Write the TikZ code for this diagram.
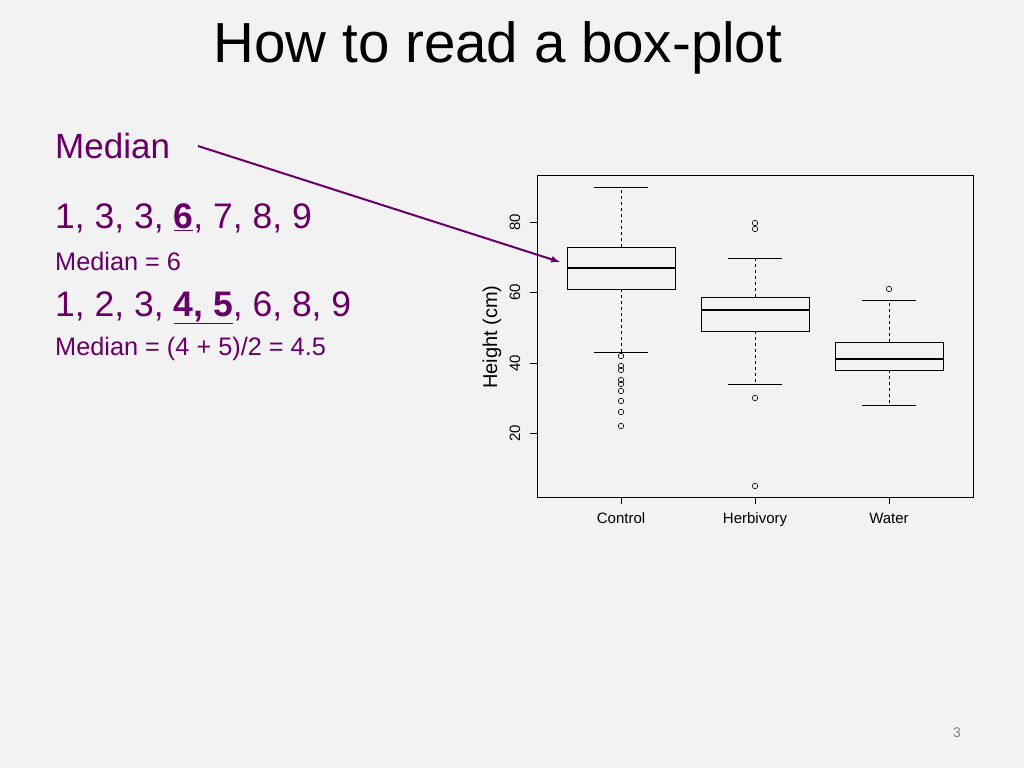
\documentclass[tikz,border=0pt]{standalone}
\usepackage{fontspec}
\setmainfont{Liberation Sans}
\definecolor{pur}{RGB}{102,0,102}
\definecolor{bg}{RGB}{242,242,242}
\begin{document}
\begin{tikzpicture}[x=1pt,y=-1pt,
  pt/.style={circle,draw,inner sep=0pt,minimum size=5.5pt,line width=0.6pt},
  lab/.style={inner sep=0pt,font=\fontsize{15}{17}\selectfont},
  txt/.style={inner sep=0pt,anchor=west,text=pur}]
\fill[bg] (0,0) rectangle (1024,768);
\useasboundingbox (0,0) rectangle (1024,768);
\node[inner sep=0pt] (title) at (498,48) {\fontsize{56.5}{60}\selectfont How to read a box-plot};
\node[txt] (med) at (55,146) {\fontsize{35}{38}\selectfont Median};
\node[txt] (l1) at (55,218) {\fontsize{35.5}{38}\selectfont 1, 3, 3, \underline{\textbf{6}}, 7, 8, 9};
\node[txt] (m1) at (55,261) {\fontsize{25.3}{27}\selectfont Median = 6};
\node[txt] (l2) at (55,308) {\fontsize{35.5}{38}\selectfont 1, 2, 3, \underline{\textbf{4, 5}}, 6, 8, 9};
\node[txt] (m2) at (55,349) {\fontsize{25.3}{27}\selectfont Median = (4 + 5)/2 = 4.5};
\coordinate (as) at (198,146);
\coordinate (ae) at (560,262);
\draw[pur,line width=2pt,-latex] (as) -- (ae);
% plot frame
\draw[line width=0.6pt] (537,175) rectangle (973,497);
\foreach \v/\y in {80/222,60/292,40/363,20/433}{
  \draw[line width=0.6pt] (537,\y) -- (530,\y);
  \node[lab,rotate=90] at (515,\y) {\v};}
\node[inner sep=0pt,rotate=90,font=\fontsize{20}{22}\selectfont] (ylab) at (492,337) {Height (cm)};
\foreach \x/\n in {621/Control,755/Herbivory,889/Water}{
  \draw[line width=0.6pt] (\x,497) -- (\x,504);
  \node[lab,anchor=base] at (\x,523) {\n};}
% boxes: x, q3, q1, med, wtop, wbot
\foreach \x/\a/\b/\m/\t/\u in {621/247/289/268/187/352, 755/297/331/310/258/384, 889/342/370/359/300/405}{
  \draw[line width=0.6pt,fill=bg] (\x-54,\a) rectangle (\x+54,\b);
  \draw[line width=2pt] (\x-54,\m) -- (\x+54,\m);
  \draw[dashed,line width=0.6pt] (\x,\a) -- (\x,\t);
  \draw[dashed,line width=0.6pt] (\x,\b) -- (\x,\u);
  \draw[line width=0.6pt] (\x-27,\t) -- (\x+27,\t);
  \draw[line width=0.6pt] (\x-27,\u) -- (\x+27,\u);}
\foreach \y in {356,366,370,380,384,391,401,412,426} \node[pt] at (621,\y) {};
\foreach \y in {223,229,398,486} \node[pt] at (755,\y) {};
\node[pt] at (889,289) {};
\node[inner sep=0pt,text=gray,font=\fontsize{14}{16}\selectfont] (pg) at (957,733) {3};
\end{tikzpicture}
\end{document}
